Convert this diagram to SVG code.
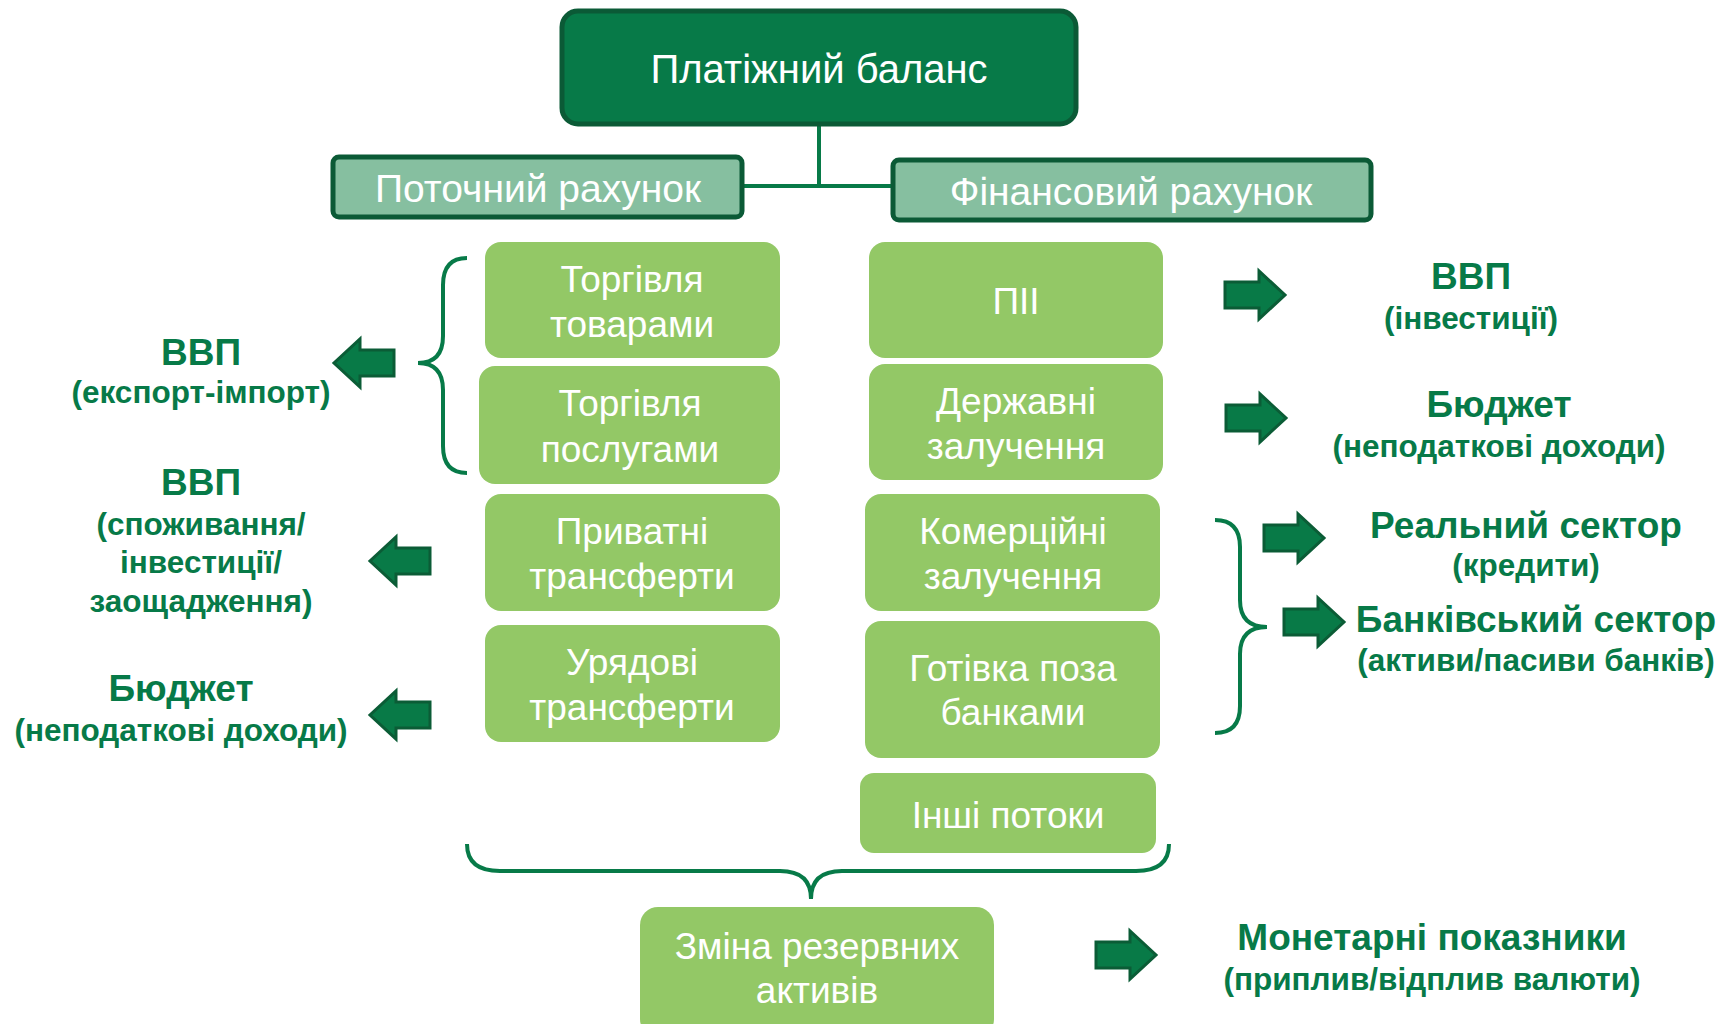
<svg xmlns="http://www.w3.org/2000/svg" width="1724" height="1024" viewBox="0 0 1724 1024">
<style>
.top{fill:#077a48;stroke:#0b5a36;stroke-width:5}
.hdr{fill:#86bfa0;stroke:#0b5a36;stroke-width:5}
.item{fill:#93c866}
.wt{font-family:"Liberation Sans",Arial,sans-serif;fill:#ffffff;text-anchor:middle}
.gt{font-family:"Liberation Sans",Arial,sans-serif;fill:#077a48;font-weight:bold;text-anchor:middle}
.t1{font-size:37px}
.t2{font-size:31.5px}
.bx{font-size:37px}
.ln{stroke:#077a48;stroke-width:4;fill:none}
.br{stroke:#077a48;stroke-width:4;fill:none}
.arr{fill:#087a47;stroke:#0b5c36;stroke-width:3;stroke-linejoin:miter}
</style>
<defs>
<path id="arrR" d="M0,-13 H34 V-24 L60,0 L34,24 V13 H0 Z"/>
</defs>

<g id="connectors">
<line class="ln" x1="819" y1="125" x2="819" y2="187"/>
<line class="ln" x1="742" y1="186" x2="893" y2="186"/>
<path class="br" d="M467,258 Q443,258 443,285 V336 Q443,363 418,363 Q443,363 443,390 V446 Q443,473 467,473"/>
<path class="br" d="M1215,520 Q1240,520 1240,547 V600 Q1240,627 1267,627 Q1240,627 1240,654 V706 Q1240,733 1215,733"/>
<path class="br" d="M467,844 Q467,871 500,871 H780 Q811,871 811,899 Q811,871 842,871 H1136 Q1169,871 1169,844"/>
<use href="#arrR" class="arr" transform="translate(394,363) scale(-1,1)"/>
<use href="#arrR" class="arr" transform="translate(430,561) scale(-1,1)"/>
<use href="#arrR" class="arr" transform="translate(430,715) scale(-1,1)"/>
<use href="#arrR" class="arr" transform="translate(1225,295)"/>
<use href="#arrR" class="arr" transform="translate(1226,418)"/>
<use href="#arrR" class="arr" transform="translate(1264,538)"/>
<use href="#arrR" class="arr" transform="translate(1284,622)"/>
<use href="#arrR" class="arr" transform="translate(1096,955)"/>
</g>

<g id="balance">
<rect class="top" x="562" y="11" width="514" height="113" rx="16"/>
<text class="wt" x="819" y="83" font-size="40">Платіжний баланс</text>
</g>
<g id="current">
<rect class="hdr" x="333" y="157" width="409" height="60" rx="6"/>
<text class="wt" x="538" y="202" font-size="39">Поточний рахунок</text>
</g>
<g id="financial">
<rect class="hdr" x="893" y="160" width="478" height="60" rx="6"/>
<text class="wt" x="1131" y="205" font-size="39">Фінансовий рахунок</text>
</g>

<g id="goods">
<rect class="item" x="485" y="242" width="295" height="116" rx="16"/>
<text class="wt bx" x="632" y="292">Торгівля</text>
<text class="wt bx" x="632" y="337">товарами</text>
</g>
<g id="services">
<rect class="item" x="479" y="366" width="301" height="118" rx="16"/>
<text class="wt bx" x="630" y="416">Торгівля</text>
<text class="wt bx" x="630" y="462">послугами</text>
</g>
<g id="private">
<rect class="item" x="485" y="494" width="295" height="117" rx="16"/>
<text class="wt bx" x="632" y="544">Приватні</text>
<text class="wt bx" x="632" y="589">трансферти</text>
</g>
<g id="government">
<rect class="item" x="485" y="625" width="295" height="117" rx="16"/>
<text class="wt bx" x="632" y="675">Урядові</text>
<text class="wt bx" x="632" y="720">трансферти</text>
</g>

<g id="fdi">
<rect class="item" x="869" y="242" width="294" height="116" rx="16"/>
<text class="wt bx" x="1016" y="314">ПІІ</text>
</g>
<g id="state">
<rect class="item" x="869" y="364" width="294" height="116" rx="16"/>
<text class="wt bx" x="1016" y="414">Державні</text>
<text class="wt bx" x="1016" y="459">залучення</text>
</g>
<g id="commercial">
<rect class="item" x="865" y="494" width="295" height="117" rx="16"/>
<text class="wt bx" x="1013" y="544">Комерційні</text>
<text class="wt bx" x="1013" y="589">залучення</text>
</g>
<g id="cash">
<rect class="item" x="865" y="621" width="295" height="137" rx="16"/>
<text class="wt bx" x="1013" y="681">Готівка поза</text>
<text class="wt bx" x="1013" y="725">банками</text>
</g>
<g id="other">
<rect class="item" x="860" y="773" width="296" height="80" rx="14"/>
<text class="wt bx" x="1008" y="828">Інші потоки</text>
</g>
<g id="reserves">
<rect class="item" x="640" y="907" width="354" height="130" rx="18"/>
<text class="wt bx" x="817" y="959">Зміна резервних</text>
<text class="wt bx" x="817" y="1003">активів</text>
</g>

<g id="l-gdp1">
<text class="gt t1" x="201" y="365">ВВП</text>
<text class="gt t2" x="201" y="403">(експорт-імпорт)</text>
</g>
<g id="l-gdp2">
<text class="gt t1" x="201" y="495">ВВП</text>
<text class="gt t2" x="201" y="535">(споживання/</text>
<text class="gt t2" x="201" y="573">інвестиції/</text>
<text class="gt t2" x="201" y="612">заощадження)</text>
</g>
<g id="l-budget">
<text class="gt t1" x="181" y="701">Бюджет</text>
<text class="gt t2" x="181" y="741">(неподаткові доходи)</text>
</g>
<g id="r-gdp">
<text class="gt t1" x="1471" y="289">ВВП</text>
<text class="gt t2" x="1471" y="329">(інвестиції)</text>
</g>
<g id="r-budget">
<text class="gt t1" x="1499" y="417">Бюджет</text>
<text class="gt t2" x="1499" y="457">(неподаткові доходи)</text>
</g>
<g id="r-real">
<text class="gt t1" x="1526" y="538">Реальний сектор</text>
<text class="gt t2" x="1526" y="576">(кредити)</text>
</g>
<g id="r-bank">
<text class="gt t1" x="1536" y="632">Банківський сектор</text>
<text class="gt t2" x="1536" y="671">(активи/пасиви банків)</text>
</g>
<g id="r-monetary">
<text class="gt t1" x="1432" y="950">Монетарні показники</text>
<text class="gt t2" x="1432" y="990">(приплив/відплив валюти)</text>
</g>
</svg>
